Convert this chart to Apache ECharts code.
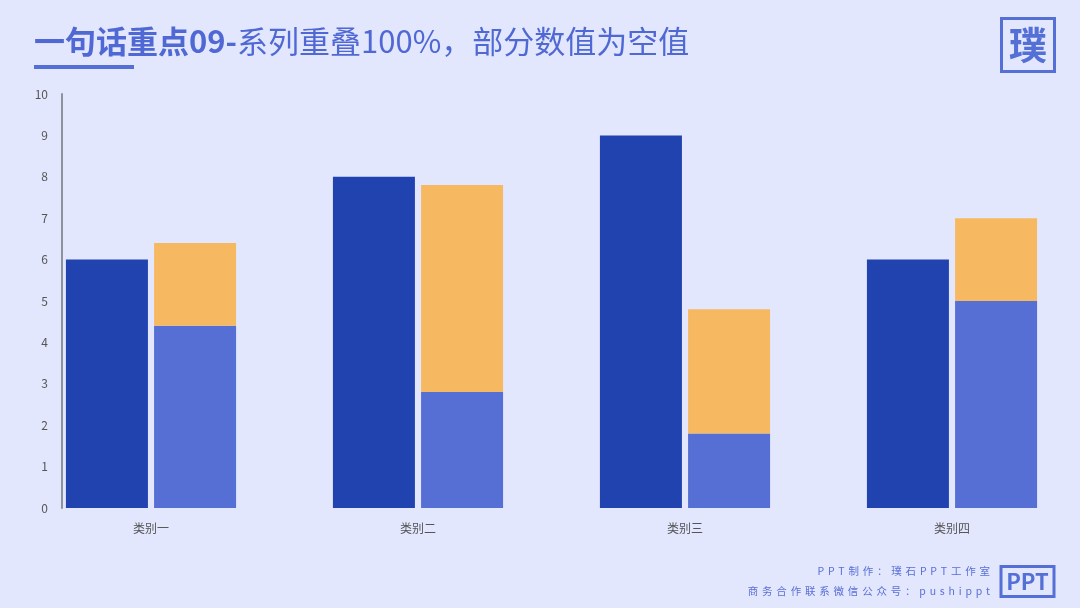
<!DOCTYPE html>
<html><head><meta charset="utf-8">
<script src="https://cdn.jsdelivr.net/npm/echarts@6/dist/echarts.min.js"></script>
<style>html,body{margin:0;padding:0;background:#e2e7fd;}#c{width:1080px;height:608px;}</style>
</head><body><div id="c"></div>
<script>
const categories = ['类别一', '类别二', '类别三', '类别四'];
const series1 = [6, 8, 9, 6];
const series2 = [4.4, 2.8, 1.8, 5];
const series3 = [2.0, 5.0, 3.0, 2.0];
const yTicks = [0, 1, 2, 3, 4, 5, 6, 7, 8, 9, 10];

const FONT = '"Noto Sans CJK SC", "Noto Sans", sans-serif';

// lay out a string with letter spacing, right-aligned at xRight
function spacedText(str, xRight, y, fontSize, spacing, color) {
  const ctx = document.createElement('canvas').getContext('2d');
  ctx.font = fontSize + 'px ' + FONT;
  const chars = Array.from(str);
  const widths = chars.map(c => ctx.measureText(c).width);
  const total = widths.reduce((a, b) => a + b, 0) + spacing * (chars.length - 1);
  let x = xRight - total;
  const out = [];
  chars.forEach((c, i) => {
    out.push({ type: 'text', x: x, y: y, silent: true, style: { text: c, fontSize: fontSize, fill: color,
      align: 'left', verticalAlign: 'middle', fontFamily: FONT } });
    x += widths[i] + spacing;
  });
  return out;
}

const chart = echarts.init(document.getElementById('c'));
chart.setOption({
  backgroundColor: '#e2e7fd',
  animation: false,
  grid: { left: 17.5, top: 94, width: 1068, height: 414, outerBoundsMode: 'none', containLabel: false },
  xAxis: {
    type: 'category', data: categories,
    axisLine: { show: false }, axisTick: { show: false },
    axisLabel: { color: '#555', fontSize: 12, margin: 14, fontFamily: FONT }
  },
  yAxis: {
    type: 'value', min: yTicks[0], max: yTicks[yTicks.length - 1], interval: 1,
    offset: -44.5,
    axisLine: { show: true, lineStyle: { color: '#8e929c', width: 2 } },
    axisTick: { show: false }, splitLine: { show: false },
    axisLabel: { color: '#555', fontSize: 12, margin: 14, fontFamily: FONT }
  },
  series: [
    { type: 'bar', name: '系列1', stack: 'a', data: series1, barWidth: 82, barGap: '7.5%',
      itemStyle: { color: '#2043b0' } },
    { type: 'bar', name: '系列2', stack: 'b', data: series2, barWidth: 82,
      itemStyle: { color: '#556fd4' } },
    { type: 'bar', name: '系列3', stack: 'b', data: series3, barWidth: 82,
      itemStyle: { color: '#f6b860' } }
  ],
  graphic: [
    { type: 'text', left: 34, top: 26, style: {
      text: '{b|一句话重点09-}{r|系列重叠100%，部分数值为空值}',
      rich: {
        b: { fontSize: 31, fontWeight: 'bold', fill: '#5068d4', fontFamily: FONT },
        r: { fontSize: 31, fontWeight: 'normal', fill: '#5068d4', fontFamily: FONT }
      } } },
    { type: 'rect', shape: { x: 34, y: 65, width: 100, height: 4 }, style: { fill: '#5470d6' } },
    { type: 'rect', shape: { x: 1001.5, y: 18.5, width: 53, height: 53 },
      style: { fill: 'none', stroke: '#5470d6', lineWidth: 3 } },
    { type: 'text', x: 1028, y: 45, style: { text: '璞', fontSize: 38, fontWeight: 'bold', fill: '#5470d6',
      align: 'center', verticalAlign: 'middle', fontFamily: FONT } },
    ...spacedText('PPT制作：璞石PPT工作室', 990, 571, 10.5, 3.8, '#5a6fd6'),
    ...spacedText('商务合作联系微信公众号：pushippt', 990, 591, 10.5, 3.8, '#5a6fd6'),
    { type: 'rect', shape: { x: 1001, y: 566.5, width: 53, height: 30 },
      style: { fill: 'none', stroke: '#5470d6', lineWidth: 3 } },
    { type: 'text', x: 1027.5, y: 582, style: { text: 'PPT', fontSize: 22, fontWeight: 'bold', fill: '#5470d6',
      align: 'center', verticalAlign: 'middle', fontFamily: FONT } }
  ]
});
</script></body></html>
